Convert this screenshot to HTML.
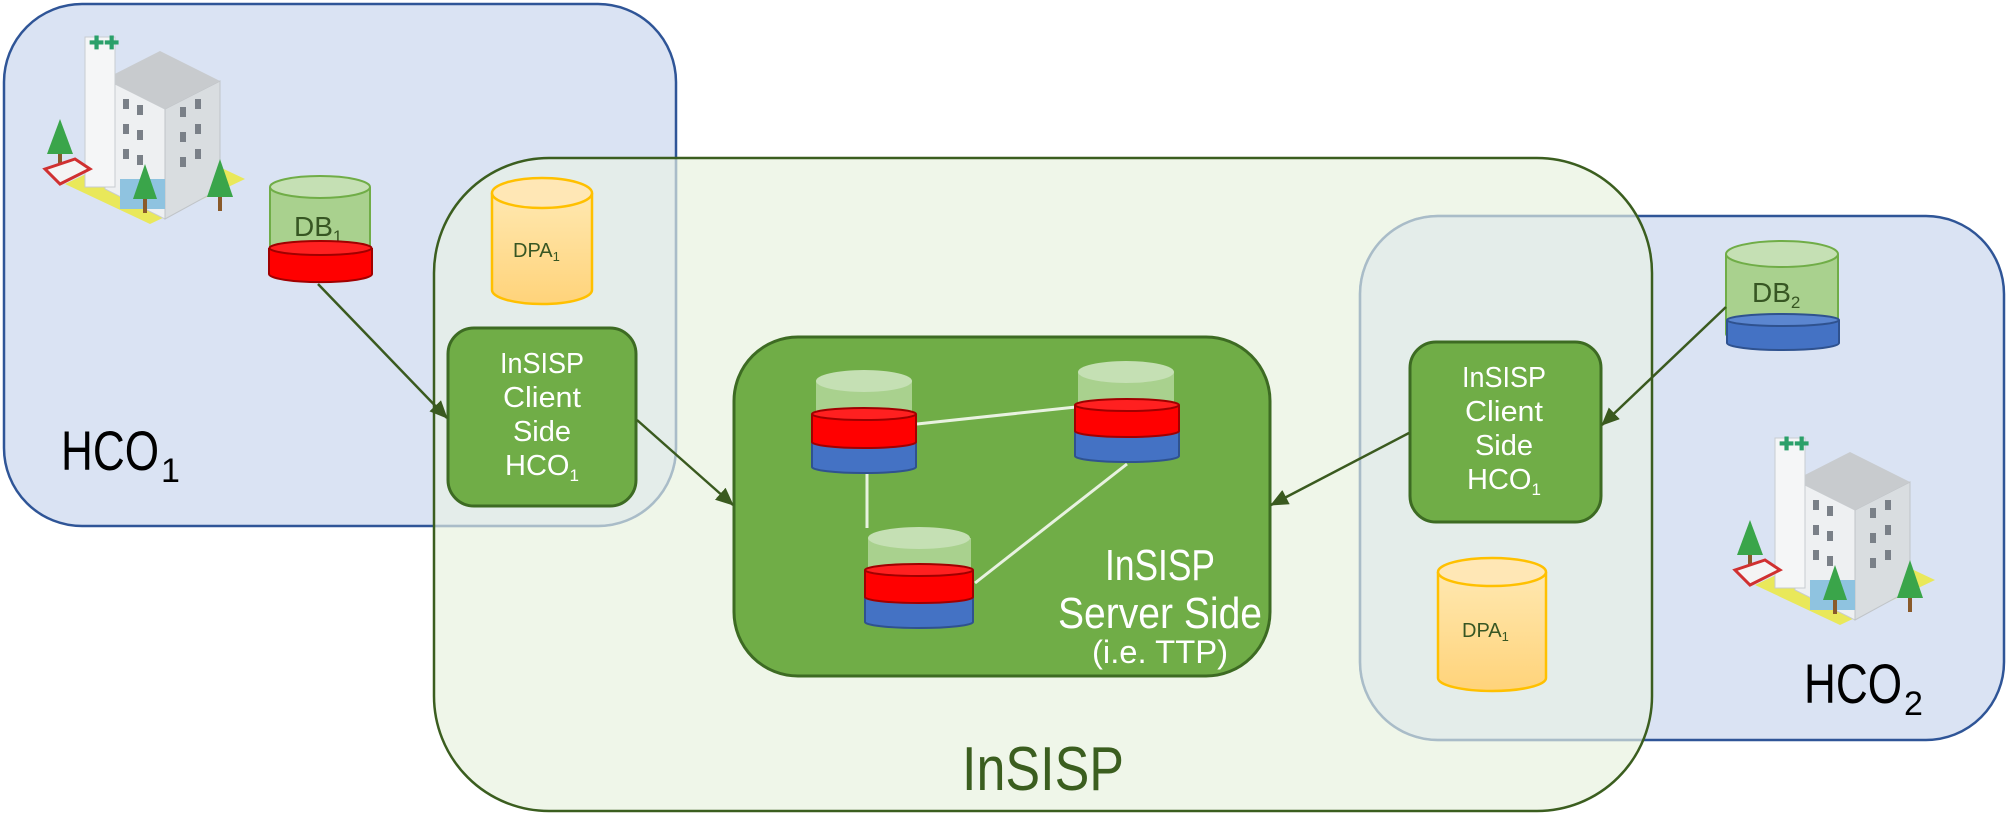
<!DOCTYPE html>
<html><head><meta charset="utf-8"><style>
html,body{margin:0;padding:0;background:#fff}
svg{display:block}
text{font-family:"Liberation Sans",sans-serif}
</style></head><body>
<svg width="2008" height="816" viewBox="0 0 2008 816" xmlns="http://www.w3.org/2000/svg">
<defs>
<marker id="ah" markerWidth="18" markerHeight="16" refX="17" refY="8" orient="auto" markerUnits="userSpaceOnUse" viewBox="0 0 18 16">
<path d="M0,0 L18,8 L0,16 z" fill="#3a5a1f"/>
</marker>
<linearGradient id="yel" x1="0" y1="0" x2="0" y2="1"><stop offset="0" stop-color="#ffe8b0"/><stop offset="1" stop-color="#ffd37a"/></linearGradient>
<clipPath id="ins"><rect x="434" y="158" width="1218" height="653" rx="115"/></clipPath>
<g id="hosp">
<polygon points="20,165 105,205 200,160 115,120" fill="#e9e85a"/>
<polygon points="60,60 120,90 120,200 60,170" fill="#eef0f2" stroke="#c8ccd0"/>
<polygon points="120,90 175,62 175,170 120,200" fill="#d9dde0" stroke="#c0c4c8"/>
<polygon points="60,60 115,32 175,62 120,90" fill="#c8cbce"/>
<rect x="40" y="18" width="30" height="150" fill="#f5f6f7" stroke="#c8ccd0"/>
<text x="44" y="30" font-size="18" fill="#2aa06a" font-weight="bold">✚✚</text>
<g fill="#7a8088"><rect x="78" y="80" width="6" height="10"/><rect x="92" y="86" width="6" height="10"/><rect x="78" y="105" width="6" height="10"/><rect x="92" y="111" width="6" height="10"/><rect x="78" y="130" width="6" height="10"/><rect x="92" y="136" width="6" height="10"/><rect x="135" y="88" width="6" height="10"/><rect x="150" y="80" width="6" height="10"/><rect x="135" y="113" width="6" height="10"/><rect x="150" y="105" width="6" height="10"/><rect x="135" y="138" width="6" height="10"/><rect x="150" y="130" width="6" height="10"/></g>
<rect x="75" y="160" width="45" height="30" fill="#8fc3e0"/>
<polygon points="15,100 28,135 2,135" fill="#3aa54a"/><rect x="13" y="135" width="4" height="14" fill="#8a5a2a"/>
<polygon points="175,140 188,178 162,178" fill="#3aa54a"/><rect x="173" y="178" width="4" height="14" fill="#8a5a2a"/>
<polygon points="100,145 112,180 88,180" fill="#3aa54a"/><rect x="98" y="180" width="4" height="14" fill="#8a5a2a"/>
<polygon points="0,150 30,140 45,150 15,165" fill="#f4f4f4" stroke="#d03030" stroke-width="3"/>
</g>
</defs>

<rect x="4" y="4" width="672" height="522" rx="78" fill="#dae3f3" stroke="#2f5597" stroke-width="2.5"/>
<rect x="1360" y="216" width="644" height="524" rx="78" fill="#dae3f3" stroke="#2f5597" stroke-width="2.5"/>

<use href="#hosp" x="45" y="19"/>
<use href="#hosp" x="1735" y="420"/>

<rect x="434" y="158" width="1218" height="653" rx="115" fill="rgba(235,244,228,0.82)" stroke="none"/>
<g clip-path="url(#ins)">
<rect x="4" y="4" width="672" height="522" rx="78" fill="rgba(218,227,243,0.3)" stroke="#a9bcc8" stroke-width="2.5"/>
<rect x="1360" y="216" width="644" height="524" rx="78" fill="rgba(218,227,243,0.3)" stroke="#a9bcc8" stroke-width="2.5"/>
</g>
<rect x="434" y="158" width="1218" height="653" rx="115" fill="none" stroke="#3b5e1f" stroke-width="2.5"/>

<!-- DB1 -->
<path d="M270,187 L270,270 A50,10 0 0 0 370,270 L370,187" fill="#a9d18e" stroke="#70ad47" stroke-width="2"/>
<ellipse cx="320" cy="187" rx="50" ry="11" fill="#c5e0b4" stroke="#70ad47" stroke-width="2"/>
<text x="294" y="236" font-size="28" fill="#375623">DB<tspan font-size="17" dy="6">1</tspan></text>
<path d="M269,248 L269,274 A51,8 0 0 0 372,274 L372,248" fill="#ff0000" stroke="#a00000" stroke-width="2"/>
<ellipse cx="320.5" cy="248" rx="51" ry="7" fill="#ff2020" stroke="#a00000" stroke-width="2"/>

<!-- DPA1 left -->
<path d="M492,193 L492,290 A50,14 0 0 0 592,290 L592,193" fill="url(#yel)" stroke="#ffc000" stroke-width="2.5"/>
<ellipse cx="542" cy="193" rx="50" ry="15" fill="#ffe7b5" stroke="#ffc000" stroke-width="2.5"/>
<text x="513" y="257" font-size="20" fill="#375623">DPA<tspan font-size="13" dy="4">1</tspan></text>

<!-- DB2 -->
<path d="M1726,254 L1726,334 A56,10 0 0 0 1838,334 L1838,254" fill="#a9d18e" stroke="#70ad47" stroke-width="2"/>
<ellipse cx="1782" cy="254" rx="56" ry="13" fill="#c5e0b4" stroke="#70ad47" stroke-width="2"/>
<text x="1752" y="302" font-size="28" fill="#375623">DB<tspan font-size="17" dy="6">2</tspan></text>
<path d="M1727,320 L1727,343 A56,7 0 0 0 1839,343 L1839,320" fill="#4472c4" stroke="#2f528f" stroke-width="2"/>
<ellipse cx="1783" cy="320" rx="56" ry="6" fill="#5b86d0" stroke="#2f528f" stroke-width="2"/>

<!-- DPA1 right -->
<path d="M1438,572 L1438,678 A54,13 0 0 0 1546,678 L1546,572" fill="url(#yel)" stroke="#ffc000" stroke-width="2.5"/>
<ellipse cx="1492" cy="572" rx="54" ry="14" fill="#ffe7b5" stroke="#ffc000" stroke-width="2.5"/>
<text x="1462" y="637" font-size="20" fill="#375623">DPA<tspan font-size="13" dy="4">1</tspan></text>

<!-- Server box -->
<rect x="734" y="337" width="536" height="339" rx="64" fill="#70ad47" stroke="#3d6b23" stroke-width="3"/>
<line x1="917" y1="424" x2="1076" y2="407" stroke="#e8f2e0" stroke-width="3"/>
<line x1="867" y1="474" x2="867" y2="528" stroke="#e8f2e0" stroke-width="3"/>
<line x1="975" y1="583" x2="1127" y2="464" stroke="#e8f2e0" stroke-width="3"/>

<!-- Cylinder A -->
<path d="M816,381 L816,414 L912,414 L912,381" fill="#a9d18e"/>
<ellipse cx="864" cy="381" rx="48" ry="11" fill="#c5e0b4"/>
<path d="M812,442 L812,467 A52,6 0 0 0 916,467 L916,442" fill="#4472c4" stroke="#2f528f" stroke-width="2"/>
<path d="M812,414 L812,442 A52,6 0 0 0 916,442 L916,414" fill="#ff0000" stroke="#a00000" stroke-width="2"/>
<ellipse cx="864" cy="414" rx="52" ry="6" fill="#ff2020" stroke="#a00000" stroke-width="2"/>
<!-- Cylinder B -->
<path d="M1078,372 L1078,405 L1174,405 L1174,372" fill="#a9d18e"/>
<ellipse cx="1126" cy="372" rx="48" ry="11" fill="#c5e0b4"/>
<path d="M1075,431 L1075,456 A52,6 0 0 0 1179,456 L1179,431" fill="#4472c4" stroke="#2f528f" stroke-width="2"/>
<path d="M1075,405 L1075,431 A52,6 0 0 0 1179,431 L1179,405" fill="#ff0000" stroke="#a00000" stroke-width="2"/>
<ellipse cx="1127" cy="405" rx="52" ry="6" fill="#ff2020" stroke="#a00000" stroke-width="2"/>
<!-- Cylinder C -->
<path d="M868,538 L868,570 L971,570 L971,538" fill="#a9d18e"/>
<ellipse cx="919" cy="538" rx="51" ry="11" fill="#c5e0b4"/>
<path d="M865,597 L865,622 A54,6 0 0 0 973,622 L973,597" fill="#4472c4" stroke="#2f528f" stroke-width="2"/>
<path d="M865,570 L865,597 A54,6 0 0 0 973,597 L973,570" fill="#ff0000" stroke="#a00000" stroke-width="2"/>
<ellipse cx="919" cy="570" rx="54" ry="6" fill="#ff2020" stroke="#a00000" stroke-width="2"/>

<text x="1160" y="580" font-size="44" fill="#fff" text-anchor="middle" textLength="110" lengthAdjust="spacingAndGlyphs">InSISP</text>
<text x="1160" y="628" font-size="44" fill="#fff" text-anchor="middle" textLength="204" lengthAdjust="spacingAndGlyphs">Server Side</text>
<text x="1160" y="663" font-size="32" fill="#fff" text-anchor="middle" textLength="136" lengthAdjust="spacingAndGlyphs">(i.e. TTP)</text>

<!-- Client boxes -->
<rect x="448" y="328" width="188" height="178" rx="26" fill="#70ad47" stroke="#3d6b23" stroke-width="3"/>
<g font-size="29" fill="#fff" text-anchor="middle">
<text x="542" y="373" textLength="84" lengthAdjust="spacingAndGlyphs">InSISP</text>
<text x="542" y="407" textLength="78" lengthAdjust="spacingAndGlyphs">Client</text>
<text x="542" y="441">Side</text>
<text x="542" y="475">HCO<tspan font-size="17" dy="6">1</tspan></text>
</g>
<rect x="1410" y="342" width="191" height="180" rx="26" fill="#70ad47" stroke="#3d6b23" stroke-width="3"/>
<g font-size="29" fill="#fff" text-anchor="middle">
<text x="1504" y="387" textLength="84" lengthAdjust="spacingAndGlyphs">InSISP</text>
<text x="1504" y="421" textLength="78" lengthAdjust="spacingAndGlyphs">Client</text>
<text x="1504" y="455">Side</text>
<text x="1504" y="489">HCO<tspan font-size="17" dy="6">1</tspan></text>
</g>

<!-- arrows -->
<g stroke="#3a5a1f" stroke-width="2.5" fill="none" marker-end="url(#ah)">
<line x1="318" y1="284" x2="447" y2="418"/>
<line x1="637" y1="420" x2="733" y2="505"/>
<line x1="1409" y1="433" x2="1271" y2="505"/>
<line x1="1726" y1="307" x2="1602" y2="425"/>
</g>

<text x="61" y="470" font-size="56" fill="#000" textLength="98" lengthAdjust="spacingAndGlyphs">HCO</text>
<text x="161" y="482" font-size="34" fill="#000">1</text>
<text x="1804" y="703" font-size="56" fill="#000" textLength="98" lengthAdjust="spacingAndGlyphs">HCO</text>
<text x="1904" y="715" font-size="34" fill="#000">2</text>
<text x="1043" y="790" font-size="62" fill="#3b5e1f" text-anchor="middle" textLength="162" lengthAdjust="spacingAndGlyphs">InSISP</text>
</svg>
</body></html>
